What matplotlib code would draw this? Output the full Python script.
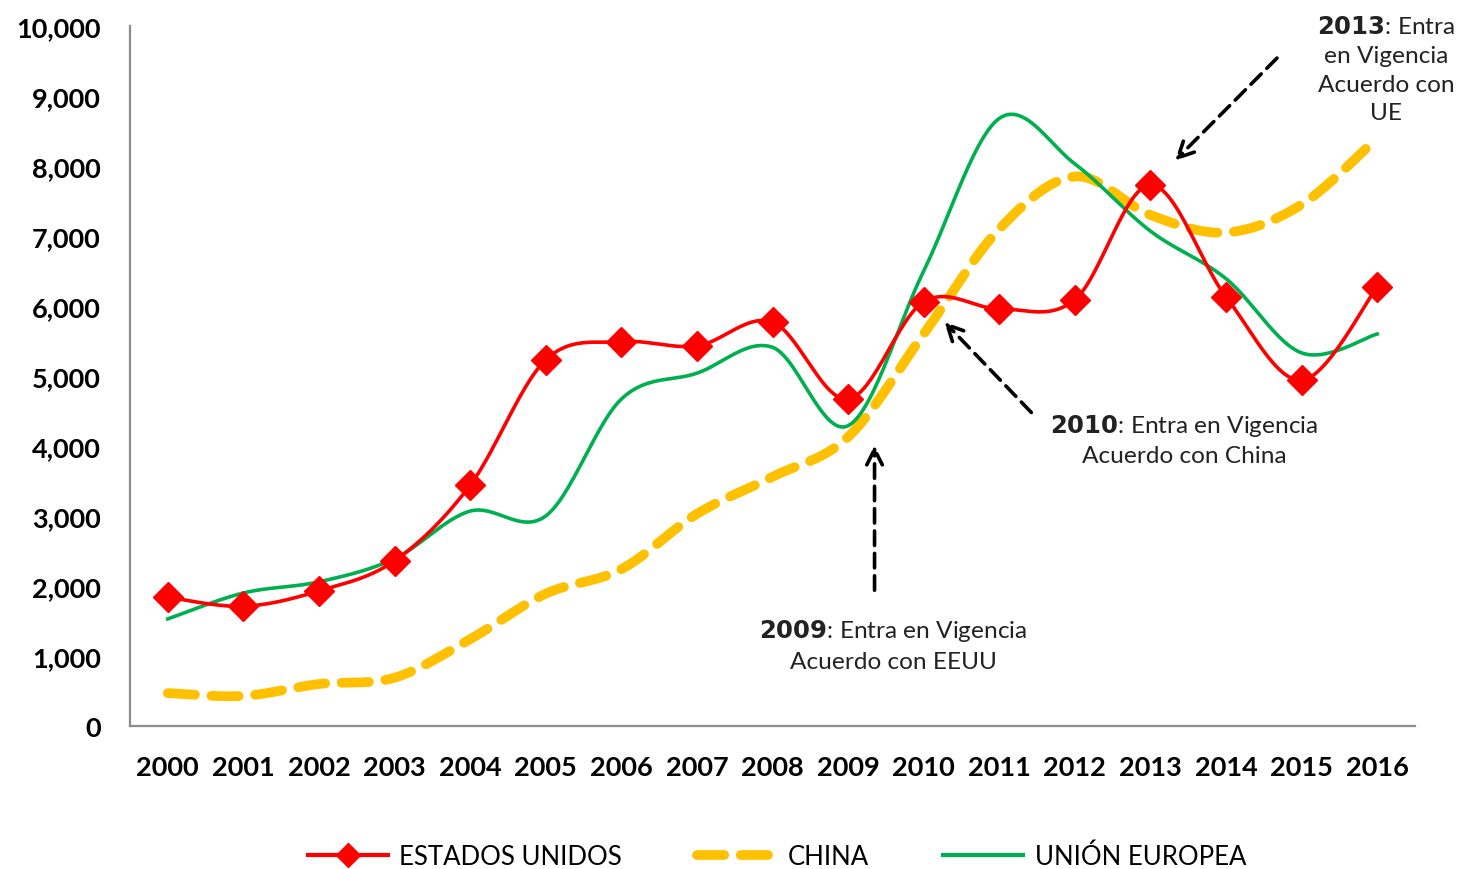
import numpy as np
import matplotlib.pyplot as plt
from matplotlib.lines import Line2D

years = [str(y) for y in range(2000, 2017)]
estados_unidos = [1840, 1710, 1930, 2360, 3440, 5230, 5490, 5430, 5770, 4670,
                  6060, 5960, 6090, 7730, 6130, 4940, 6270]
china = [470, 430, 600, 690, 1240, 1890, 2240, 3030, 3560, 4130,
         5600, 7100, 7850, 7300, 7050, 7450, 8400]
union_europea = [1530, 1900, 2060, 2390, 3070, 3000, 4670, 5040, 5410, 4290,
                 6500, 8680, 8030, 7070, 6390, 5330, 5600]

plt.rcParams['font.family'] = ['Lato', 'DejaVu Sans']


def smooth(xs, ys, n=30):
    # excel-like smoothed line (catmull-rom as bezier segments)
    p = np.column_stack([xs, ys]).astype(float)
    p = np.vstack([p[0], p, p[-1]])
    out = []
    t = np.linspace(0, 1, n)[:, None]
    for i in range(1, len(p) - 2):
        p0, p3 = p[i], p[i + 1]
        c1 = p0 + (p[i + 1] - p[i - 1]) / 6
        c2 = p3 - (p[i + 2] - p[i]) / 6
        seg = ((1 - t) ** 3) * p0 + 3 * ((1 - t) ** 2) * t * c1 + 3 * (1 - t) * t ** 2 * c2 + t ** 3 * p3
        out.append(seg if i == 1 else seg[1:])
    out = np.vstack(out)
    return out[:, 0], out[:, 1]


x = np.arange(len(years))

fig = plt.figure(figsize=(14.65, 8.7), dpi=100)
ax = fig.add_axes([130 / 1465, 1 - 727 / 870, (1415 - 130) / 1465, 700 / 870])

red, yellow, green = '#FF0000', '#FFC000', '#00B050'
china_dash = (0, (2.8, 1.7))

sx, sy = smooth(x, china)
ax.plot(sx, sy, color=yellow, lw=7, ls=china_dash, dash_capstyle='round', zorder=2)
sx, sy = smooth(x, union_europea)
ax.plot(sx, sy, color=green, lw=2.6, zorder=3)
sx, sy = smooth(x, estados_unidos)
ax.plot(sx, sy, color=red, lw=2.6, zorder=4)
ax.plot(x, estados_unidos, ls='none', marker='D', ms=15, color=red, zorder=5)

ax.set_xlim(-0.5, len(years) - 0.5)
ax.set_ylim(0, 10000)
ax.set_xticks(x)
ax.set_xticklabels(years, fontsize=19.5, fontweight='bold')
ax.set_yticks(range(0, 10001, 1000))
ax.set_yticklabels([f'{v:,}' for v in range(0, 10001, 1000)], fontsize=19.5, fontweight='bold')
ax.tick_params(length=0)
ax.tick_params(axis='x', pad=21)
ax.tick_params(axis='y', pad=21)
for s in ['top', 'right']:
    ax.spines[s].set_visible(False)
for s in ['left', 'bottom']:
    ax.spines[s].set_color('#8c8c8c')
    ax.spines[s].set_linewidth(1.6)

arrow = dict(arrowstyle='->', color='black', lw=2.6, ls=(0, (4, 2.2)), mutation_scale=28)
ax.annotate('', xy=(9.35, 4050), xytext=(9.35, 1900), arrowprops=arrow)
ax.annotate('', xy=(10.25, 5800), xytext=(11.45, 4450), arrowprops=arrow)
ax.annotate('', xy=(13.3, 8050), xytext=(14.7, 9570), arrowprops=arrow, annotation_clip=False)

txt = dict(ha='center', va='center', fontsize=17.6, linespacing=1.45, color='#222222')
ax.text(9.6, 1160, r'$\bf{2009}$: Entra en Vigencia' + '\nAcuerdo con EEUU', **txt)
ax.text(13.45, 4100, r'$\bf{2010}$: Entra en Vigencia' + '\nAcuerdo con China', **txt)
ax.text(16.12, 9380, r'$\bf{2013}$: Entra' + '\nen Vigencia\nAcuerdo con\nUE', clip_on=False, **txt)

handles = [Line2D([], [], color=red, lw=3, marker='D', ms=12),
           Line2D([], [], color=yellow, lw=7, ls=china_dash, dash_capstyle='round'),
           Line2D([], [], color=green, lw=3)]
fig.legend(handles, ['ESTADOS UNIDOS', 'CHINA', 'UNIÓN EUROPEA'], loc='center',
           bbox_to_anchor=(777 / 1465, 1 - 857 / 870), ncol=3, frameon=False, fontsize=18.5,
           handlelength=3.1, columnspacing=2.9, handletextpad=0.45)

fig.savefig('out.png', dpi=100)
